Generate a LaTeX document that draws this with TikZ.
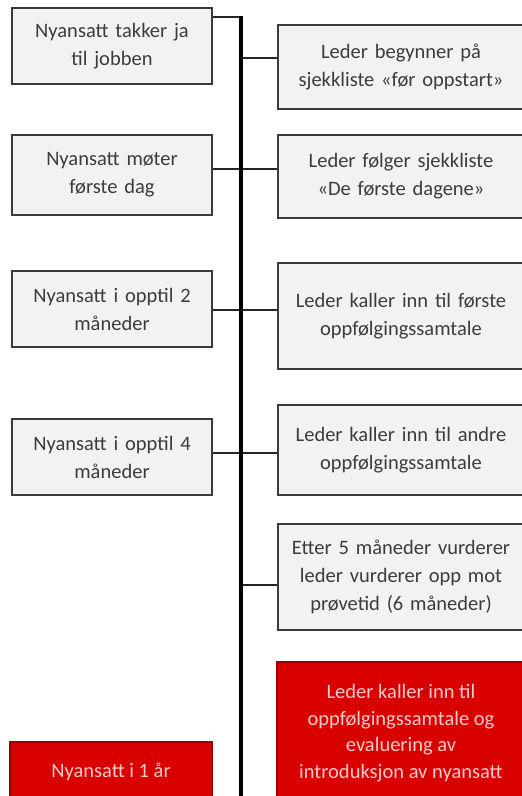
\documentclass[tikz,border=0pt]{standalone}
\usepackage{fontspec}
\setmainfont{Carlito}
\definecolor{boxfill}{HTML}{F2F2F2}
\definecolor{boxline}{HTML}{3A3A3A}
\definecolor{boxtext}{HTML}{3C3C3C}
\definecolor{redfill}{HTML}{D90000}
\definecolor{redline}{HTML}{9A0000}
\definecolor{redtext}{HTML}{F6CACA}
\begin{document}
\begin{tikzpicture}[x=1pt,y=-1pt,
  base/.style={draw=boxline, line width=1.3pt, fill=boxfill, text=boxtext, align=center,
    inner sep=0pt, font=\fontsize{20.5}{28}\selectfont},
  lbox/.style={base, minimum width=200pt, text width=198pt},
  rbox/.style={base, minimum width=246pt, text width=244pt},
  redbox/.style={fill=redfill, draw=redline, text=redtext},
  conn/.style={draw=black!85, line width=1.3pt},
  spine/.style={draw=black, line width=3.6pt}]
\useasboundingbox (0,0) rectangle (522,796);
\clip (0,0) rectangle (522,796);
% left column
\node[lbox, minimum height=76pt] (l1) at (112,46) {Nyansatt takker ja\\til jobben};
\node[lbox, minimum height=80pt] (l2) at (112,175) {Nyansatt møter\\første dag};
\node[lbox, minimum height=76pt] (l3) at (112,309) {Nyansatt i opptil 2\\måneder};
\node[lbox, minimum height=76pt] (l4) at (112,457) {Nyansatt i opptil 4\\måneder};
\node[lbox, redbox, minimum height=76pt, minimum width=202pt] (l5) at (111,780) {};
\node[text=redtext, font=\fontsize{20.5}{28}\selectfont] (l5t) at (111,772) {Nyansatt i 1 år};
% right column
\node[rbox, minimum height=84pt] (r1) at (401,67) {Leder begynner\ på\\sjekkliste «før oppstart»};
\node[rbox, minimum height=83pt] (r2) at (401,176.5) {Leder følger sjekkliste\\«De første dagene»};
\node[rbox, minimum height=106pt] (r3) at (401,316) {Leder kaller inn til første\\oppfølgingssamtale};
\node[rbox, minimum height=90pt] (r4) at (401,450) {Leder kaller inn til andre\\oppfølgingssamtale};
\node[rbox, minimum height=106pt] (r5) at (401,577) {Etter 5 måneder vurderer\\leder vurderer opp mot\\prøvetid (6 måneder)};
\node[rbox, redbox, minimum height=150pt] (r6) at (400,737) {};
\node[text=redtext, align=center, font=\fontsize{20.5}{26.5}\selectfont] (r6t) at (401,733)
  {Leder kaller inn\ til\\oppfølgingssamtale\ og\\evaluering\ av\\introduksjon\ av nyansatt};
% spine
\coordinate (top) at (241,17);
\coordinate (bot) at (241,800);
\draw[conn] (l1.east |- top) -- (top);
\draw[conn] (top |- 0,58) -- (r1.west |- 0,58);
\draw[conn] (l2.east |- 0,169) -- (r2.west |- 0,169);
\draw[conn] (l3.east |- 0,310) -- (r3.west |- 0,310);
\draw[conn] (l4.east |- 0,453) -- (r4.west |- 0,453);
\draw[conn] (top |- 0,585) -- (r5.west |- 0,585);
\draw[spine] ([yshift=0.6pt]top) -- (bot);
\end{tikzpicture}
\end{document}
